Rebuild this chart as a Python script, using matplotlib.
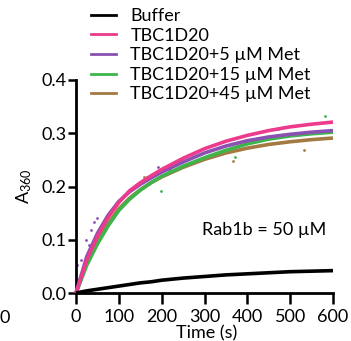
import matplotlib
matplotlib.use("Agg")
import matplotlib.pyplot as plt
from matplotlib.lines import Line2D

plt.rcParams['font.family'] = ['Lato', 'DejaVu Sans']
plt.rcParams['mathtext.fontset'] = 'custom'
plt.rcParams['mathtext.rm'] = 'Lato'
plt.rcParams['mathtext.it'] = 'Lato'

time_s = [0, 25, 50, 75, 100, 125, 150, 175, 200, 250, 300, 350, 400, 450, 500, 550, 600]
buffer_vals = [0.0, 0.004, 0.007, 0.010, 0.013, 0.016, 0.019, 0.021, 0.024, 0.028, 0.031, 0.034, 0.036, 0.038, 0.040, 0.041, 0.042]
tbc_vals = [0.0, 0.062, 0.106, 0.142, 0.170, 0.192, 0.207, 0.220, 0.232, 0.253, 0.271, 0.285, 0.296, 0.305, 0.312, 0.317, 0.321]
met5_vals = [0.0, 0.068, 0.112, 0.146, 0.172, 0.190, 0.204, 0.216, 0.227, 0.246, 0.263, 0.276, 0.286, 0.293, 0.298, 0.302, 0.305]
met15_vals = [0.0, 0.052, 0.092, 0.126, 0.155, 0.176, 0.193, 0.207, 0.219, 0.238, 0.254, 0.268, 0.280, 0.289, 0.295, 0.299, 0.302]
met45_vals = [0.0, 0.056, 0.097, 0.130, 0.158, 0.178, 0.194, 0.207, 0.218, 0.236, 0.251, 0.263, 0.272, 0.279, 0.284, 0.288, 0.291]

series_names = ["Buffer", "TBC1D20", "TBC1D20+5 µM Met", "TBC1D20+15 µM Met", "TBC1D20+45 µM Met"]
series_vals = [buffer_vals, tbc_vals, met5_vals, met15_vals, met45_vals]
series_colors = ["#000000", "#EC3B8C", "#8A50B2", "#3DB54A", "#A27A42"]

# visible outlier data points (time, value)
purple_pts_t = [3, 11, 23, 30, 34, 42, 50, 165, 191, 219]
purple_pts_v = [0.053, 0.062, 0.100, 0.090, 0.118, 0.134, 0.140, 0.218, 0.236, 0.231]
green_pts_t = [198, 371, 472, 582]
green_pts_v = [0.192, 0.255, 0.308, 0.332]
brown_pts_t = [159, 367, 532]
brown_pts_v = [0.218, 0.248, 0.268]

fig = plt.figure(figsize=(3.51, 3.41), dpi=100)
ax = fig.add_axes([76/351, 48/341, 257/351, 213/341])

ax.scatter(purple_pts_t, purple_pts_v, s=4, color=series_colors[2], lw=0, zorder=2, clip_on=False)
ax.scatter(green_pts_t, green_pts_v, s=4, color=series_colors[3], lw=0, zorder=2, clip_on=False)
ax.scatter(brown_pts_t, brown_pts_v, s=4, color=series_colors[4], lw=0, zorder=2, clip_on=False)

order = [4, 3, 2, 1, 0]
for i in order:
    ax.plot(time_s, series_vals[i], color=series_colors[i], lw=2.6, clip_on=False,
            solid_capstyle='butt', zorder=3)

ax.set_xlim(0, 600)
ax.set_ylim(0, 0.4)
ax.set_xticks([0, 100, 200, 300, 400, 500, 600])
ax.set_yticks([0.0, 0.1, 0.2, 0.3, 0.4])
ax.set_yticklabels(["0.0", "0.1", "0.2", "0.3", "0.4"])
for s in ['top', 'right']:
    ax.spines[s].set_visible(False)
for s in ['left', 'bottom']:
    ax.spines[s].set_linewidth(2.0)
ax.tick_params(axis='both', width=1.8, length=6, labelsize=13, pad=1)
ax.tick_params(axis='x', length=8, pad=3.5)

ax.set_xlabel("Time (s)", fontsize=13)
ax.xaxis.set_label_coords(0.51, -0.15)
ax.set_ylabel(r"A$_{\mathrm{360}}$", fontsize=13, labelpad=5)

ax.text(0.975, 0.295, "Rab1b = 50 µM", transform=ax.transAxes, ha='right', va='center', fontsize=13)

handles = [Line2D([], [], color=c, lw=2) for c in series_colors]
leg = fig.legend(handles, series_names, loc='upper left', bbox_to_anchor=(91/351, 1 - 8/341),
                 frameon=False, fontsize=13, handlelength=1.38, handletextpad=0.8,
                 labelspacing=0.2, borderpad=0, borderaxespad=0)

fig.text(5/351, 1 - 318/341, "0", fontsize=13, ha='center', va='center')

fig.savefig("out.png", dpi=100)
